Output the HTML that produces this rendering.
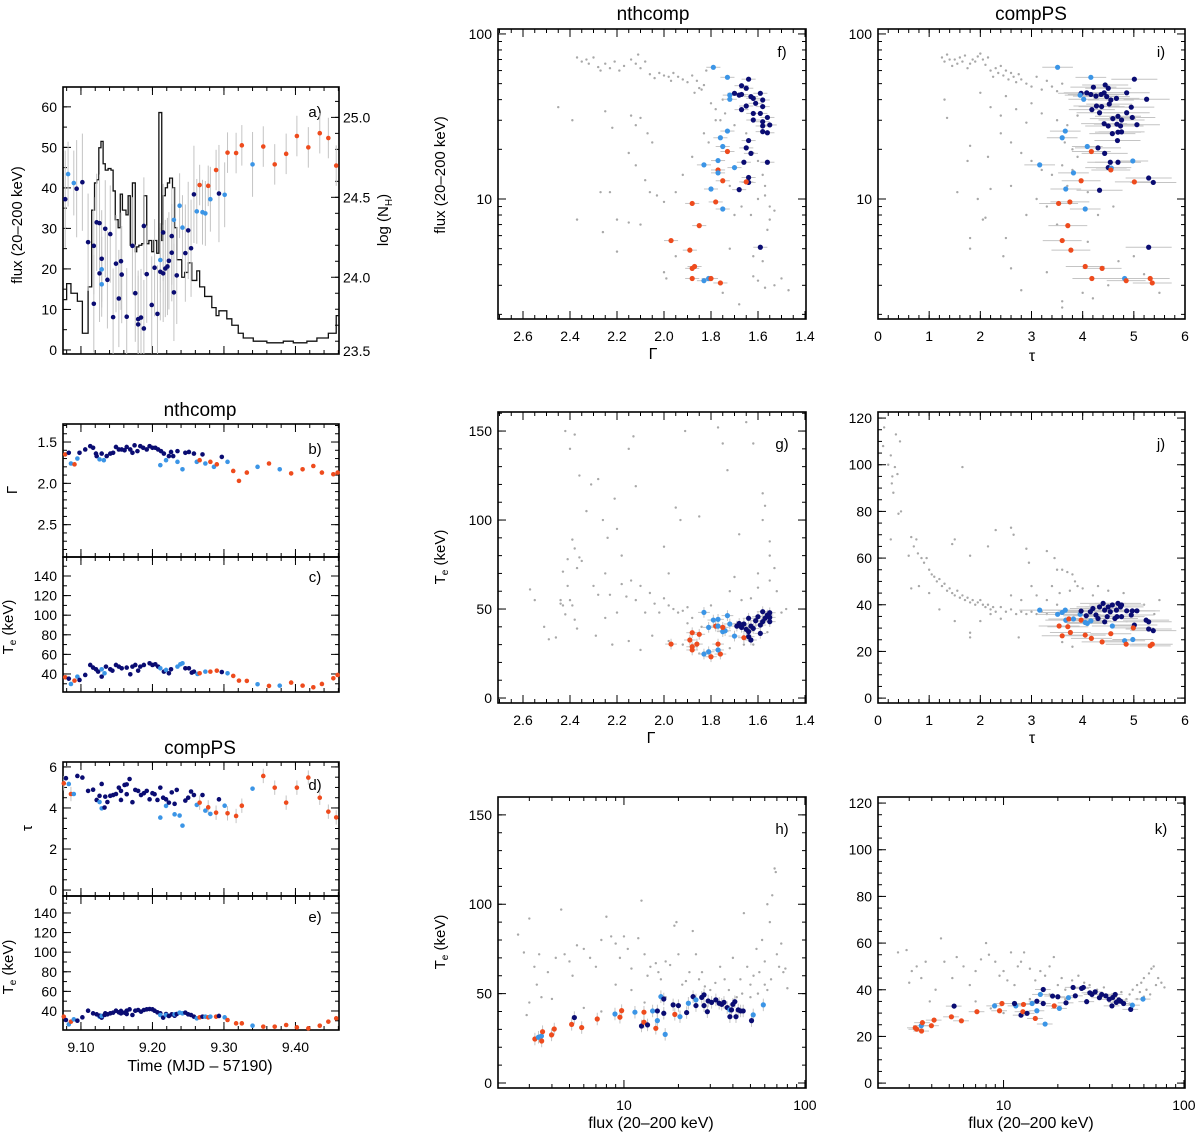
<!DOCTYPE html>
<html><head><meta charset="utf-8"><title>Compton parameter evolution</title>
<style>
html,body{margin:0;padding:0;background:#fff;}
svg{display:block;font-family:"Liberation Sans",Arial,sans-serif;}
</style></head>
<body>
<svg id="fig" width="1200" height="1135" viewBox="0 0 1200 1135" xmlns="http://www.w3.org/2000/svg"></svg>
<script>
// ---------- DATA ----------
// panel a: flux vs time
const aT=[9.078,9.082,9.090,9.094,9.102,9.110,9.118,9.118,9.122,9.126,9.126,9.129,9.129,9.129,9.134,9.137,9.141,9.145,9.149,9.153,9.156,9.157,9.164,9.172,9.176,9.180,9.180,9.184,9.188,9.188,9.192,9.199,9.203,9.207,9.211,9.211,9.215,9.215,9.218,9.221,9.223,9.227,9.227,9.230,9.230,9.234,9.238,9.242,9.246,9.250,9.254,9.258,9.262,9.266,9.270,9.274,9.278,9.281,9.289,9.293,9.301,9.305,9.317,9.325,9.340,9.355,9.371,9.387,9.402,9.418,9.434,9.446,9.457];
const aF=[37.2,43.4,41.2,39.8,41.4,26.6,25.7,11.4,31.5,31.3,18.9,19.9,22.5,16.2,29.9,17.3,28.6,8.1,21.3,12.7,21.9,18.6,8.2,25.7,14.0,7.6,6.3,8.0,5.3,30.6,18.7,11.1,20.3,8.9,22.2,19.3,18.9,29.0,20.1,20.6,22.0,24.0,28.1,32.1,14.2,18.4,35.6,30.2,23.9,29.5,25.1,38.4,34.2,40.7,34.0,33.7,40.5,37.2,44.4,38.6,38.3,48.7,48.6,50.5,45.8,50.2,45.8,48.4,52.8,50.0,53.5,52.3,45.5];
const aC="dllddddddd"+"dldldddddd"+"dddddddddd"+"ddddlddddd"+"dddlddlldd"+"ddlollolod"+"looolooooo"+"ooo";
// NH histogram (log N_H)
const nhEdges=[9.075,9.080,9.086,9.095,9.102,9.110,9.115,9.119,9.122,9.125,9.128,9.131,9.134,9.138,9.142,9.145,9.148,9.152,9.155,9.158,9.163,9.166,9.169,9.172,9.176,9.178,9.181,9.185,9.188,9.192,9.195,9.199,9.202,9.206,9.209,9.213,9.215,9.218,9.221,9.224,9.228,9.231,9.234,9.241,9.245,9.250,9.255,9.262,9.266,9.273,9.283,9.289,9.293,9.304,9.311,9.320,9.327,9.341,9.360,9.383,9.397,9.416,9.430,9.446,9.457,9.460];
const nhVals=[23.86,23.96,23.90,23.85,23.65,23.94,24.42,24.59,24.61,24.81,24.85,24.71,24.67,24.68,24.67,24.54,24.36,24.31,24.52,24.42,24.39,24.51,24.20,24.59,24.16,24.19,24.20,24.21,24.51,24.21,24.23,24.16,24.23,24.15,25.03,24.23,24.51,24.56,24.59,24.62,24.56,24.31,24.11,24.00,24.03,24.09,23.98,24.04,23.94,23.88,23.81,23.76,23.79,23.74,23.70,23.65,23.62,23.60,23.59,23.60,23.59,23.60,23.62,23.65,23.76];
// panel b: Gamma vs time
const bT=[9.078,9.083,9.086,9.091,9.095,9.098,9.106,9.113,9.117,9.121,9.122,9.126,9.129,9.132,9.136,9.141,9.145,9.149,9.153,9.157,9.161,9.164,9.169,9.172,9.175,9.179,9.183,9.187,9.192,9.196,9.200,9.204,9.208,9.211,9.212,9.216,9.219,9.223,9.226,9.229,9.235,9.235,9.242,9.246,9.251,9.258,9.262,9.266,9.270,9.274,9.281,9.286,9.290,9.297,9.305,9.313,9.321,9.332,9.347,9.363,9.378,9.394,9.410,9.425,9.437,9.453,9.459];
const bG=[1.65,1.63,1.76,1.77,1.70,1.63,1.59,1.55,1.57,1.64,1.67,1.71,1.64,1.72,1.67,1.64,1.63,1.56,1.59,1.59,1.60,1.56,1.59,1.63,1.54,1.61,1.55,1.57,1.59,1.55,1.57,1.57,1.59,1.78,1.61,1.64,1.72,1.67,1.62,1.67,1.74,1.61,1.83,1.63,1.62,1.64,1.74,1.72,1.65,1.76,1.74,1.80,1.77,1.68,1.74,1.85,1.97,1.87,1.80,1.76,1.83,1.88,1.83,1.79,1.87,1.89,1.87];
const bC="odlolddddd"+"dldldddddd"+"dddddddddd"+"dddlddlddd"+"ldldddlodl"+"olodlooolo"+"loooooo";
// panel c: Te (nthcomp) vs time
const cT=[9.078,9.083,9.086,9.091,9.095,9.098,9.106,9.113,9.117,9.121,9.124,9.129,9.129,9.133,9.135,9.141,9.144,9.149,9.153,9.157,9.164,9.169,9.172,9.176,9.180,9.183,9.188,9.196,9.200,9.204,9.208,9.211,9.216,9.219,9.223,9.226,9.235,9.239,9.242,9.246,9.251,9.255,9.258,9.263,9.266,9.274,9.281,9.290,9.297,9.305,9.313,9.321,9.332,9.347,9.363,9.378,9.394,9.410,9.425,9.437,9.453,9.459];
const cTe=[36.6,35.2,29.8,33.2,37.3,33.9,39,49.2,46.5,44.8,42.4,44.8,37.3,40.7,47.5,44.8,43.4,49.2,47.5,45.8,46.5,39.7,47.5,49.2,43.4,47.5,49.2,50.9,49.2,49.9,47.5,45.8,42.4,44.1,40.7,44.8,47.5,49.9,50.9,45.8,45.8,41.4,42.4,40,40.7,42.4,42.4,43.4,42,40.7,38,33.2,32.9,29.5,27.8,28.1,31.2,28.1,26.4,29.8,35.6,39];
const cC="odlolddddd"+"dldldddddd"+"dddddddddd"+"dldlddllld"+"dddloloodl"+"ooololoooooo";
// panels d,e: tau and Te (compPS) vs time
const dT=[9.076,9.079,9.083,9.086,9.090,9.095,9.102,9.110,9.117,9.122,9.126,9.126,9.129,9.129,9.133,9.134,9.137,9.141,9.145,9.149,9.153,9.156,9.156,9.161,9.164,9.164,9.168,9.172,9.176,9.180,9.184,9.188,9.192,9.196,9.200,9.203,9.207,9.211,9.211,9.215,9.219,9.219,9.223,9.227,9.231,9.231,9.234,9.238,9.242,9.246,9.250,9.254,9.258,9.262,9.266,9.270,9.274,9.278,9.281,9.289,9.293,9.301,9.305,9.317,9.325,9.340,9.355,9.371,9.387,9.402,9.418,9.434,9.446,9.457];
const dTau=[5.2,5.45,5.17,4.68,4.68,5.56,5.48,4.83,4.89,4.39,4.29,4.59,5.17,3.98,4.02,4.55,4.29,4.59,4.63,4.68,4.99,4.39,4.83,5.12,4.67,5.15,5.41,4.28,4.88,4.83,4.63,4.72,4.83,4.42,4.72,4.67,4.39,4.99,3.53,4.50,4.42,4.10,4.26,4.76,4.20,3.69,4.88,3.63,3.14,4.36,4.50,4.80,4.63,4.15,4.26,4.63,3.87,4.03,3.71,3.77,4.42,4.11,3.74,3.61,4.11,4.94,5.56,4.99,4.26,4.99,5.48,4.50,3.82,3.54];
const eTe=[34.2,30.8,26.4,29.1,31.5,30.1,33.5,40.3,37.6,36.6,34.2,35.2,33.2,34.9,35.9,37.6,36.6,37.6,38.3,40.3,38.6,37.6,40,38.3,40.3,36.9,41.7,35.9,40.3,41,39.3,41,41.7,42,41.7,40.3,38.6,37.6,35.9,33.2,36.9,35.9,34.9,36.6,35.2,36.6,36.9,38.3,37.6,38.3,36.6,35.9,34.2,32.5,33.5,34.2,34.2,33.5,34.2,34.2,34.9,33.5,30.8,27.4,27.4,25,24,24,25.7,23.3,22.3,25,29.1,32.5];
const dC="odlolddddd"+"lddldddddd"+"dddddddddd"+"ddddddddld"+"dldddldlld"+"dddlodlolo"+"dloooloooo"+"oooo";
// panel f: flux vs Gamma
const fG=[1.79,1.73,1.64,1.67,1.65,1.72,1.72,1.70,1.68,1.67,1.63,1.62,1.59,1.61,1.67,1.65,1.62,1.58,1.58,1.59,1.56,1.62,1.58,1.58,1.55,1.58,1.56,1.73,1.76,1.64,1.75,1.65,1.63,1.77,1.66,1.56,1.83,1.70,1.73,1.77,1.77,1.64,1.64,1.75,1.65,1.68,1.80,1.88,1.78,1.75,1.85,1.97,1.59,1.89,1.87,1.88,1.88,1.83,1.81,1.80,1.76];
const fF=[62.8,54.6,53.2,48.6,46.9,42.6,40.2,43.7,42.6,43.0,41.7,40.7,43.7,38.0,34.8,36.6,33.0,39.8,36.3,33.0,31.2,30.1,29.4,27.7,28.1,25.6,25.2,25.8,23.5,22.6,20.8,20.4,18.9,17.1,16.7,16.7,16.1,15.5,19.4,15.0,14.4,13.5,12.6,12.9,12.7,11.4,11.5,9.4,9.6,8.7,6.9,5.6,5.1,4.9,3.9,3.8,3.3,3.2,3.3,3.3,3.1];
const fC="lldddllddd"+"dddddddddd"+"dddddddlld"+"lddlddlloo"+"lddoodlool"+"oodoooolloo";
const fGray=[[2.37,72],[2.35,68],[2.33,70],[2.32,66],[2.30,72],[2.28,63],[2.27,60],[2.25,66],[2.23,62],[2.21,68],[2.19,60],[2.17,64],[2.14,70],[2.12,66],[2.11,75],[2.10,62],[2.08,68],[2.06,57],[2.04,54],[2.02,58],[2.00,56],[1.98,55],[1.97,52],[1.96,58],[1.94,55],[1.92,53],[1.90,51],[1.88,56],[1.86,52],[1.85,47],[1.83,49],[1.82,60],[1.87,44],[1.84,46],[1.80,38],[1.78,35],[1.76,30],[1.75,40],[2.45,36],[2.39,30],[2.25,34],[2.22,27],[2.14,32],[2.12,28],[2.10,31],[2.07,25],[2.05,22],[2.15,19],[2.12,16],[2.08,13],[2.06,11],[2.03,10.5],[2.27,11],[2.23,11],[2.37,7.5],[2.26,6.3],[2.2,7.5],[2.15,7.2],[2.1,7],[2.0,9.6],[1.95,11],[1.92,14],[1.88,18],[1.83,25],[1.81,22],[1.78,30],[1.72,12],[1.70,8],[1.67,9],[1.63,8],[1.6,10],[1.57,10.5],[1.55,9],[1.55,7.5],[1.53,8.5],[1.56,6.5],[1.62,3.4],[1.60,3.2],[1.57,2.9],[1.53,3.0],[1.50,3.3],[1.47,2.8],[1.75,2.7],[1.68,2.3],[1.95,4.5],[2.0,3.6],[1.99,3.3],[1.72,5],[1.62,19],[1.60,17],[1.58,14],[1.57,12],[1.65,25],[1.70,28],[1.74,33],[1.62,4.5],[1.58,4.2],[2.20,4.8]];
// panel i: flux vs tau
const iTau=[3.51,4.16,5.01,4.21,4.44,4.50,3.97,3.95,4.08,4.16,4.26,4.36,4.42,4.47,4.55,4.66,4.86,4.02,5.25,4.52,4.27,4.18,4.37,4.33,4.86,4.95,4.69,4.59,4.97,4.76,4.42,4.50,4.67,4.74,5.06,4.69,4.58,4.76,4.68,3.66,3.60,4.09,4.30,4.17,4.43,3.16,4.54,4.69,4.98,4.50,4.56,4.55,3.82,5.29,5.38,5.01,3.97,3.67,4.33,3.53,3.75,4.05,3.71,3.60,5.29,3.77,4.05,4.38,4.18,4.82,5.32,4.85,5.36];
const iF=[62.8,54.6,53.2,47.6,49.1,46.9,43.7,42.6,44.0,43.0,42.0,43.0,44.0,41.7,39.8,40.7,44.0,40.2,40.2,37.6,36.6,34.8,36.3,33.3,33.3,36.0,31.7,30.7,31.2,30.1,28.6,27.7,28.4,27.7,28.2,25.4,24.9,25.5,22.6,25.8,23.5,20.8,20.4,19.4,18.9,16.1,16.7,16.7,17.0,15.5,15.4,15.0,14.4,13.4,12.6,12.7,12.9,11.5,11.3,9.4,9.6,8.7,6.9,5.6,5.1,4.9,3.9,3.8,3.3,3.3,3.3,3.2,3.1];
const iC="lldddddldd"+"dddddddldd"+"dddddddddd"+"dddddddddl"+"lldodlddld"+"lolddooldo"+"oloodooool"+"ooo";
const iGray=[[1.25,72],[1.3,68],[1.35,75],[1.4,70],[1.45,64],[1.5,70],[1.55,66],[1.6,72],[1.65,68],[1.7,74],[1.75,62],[1.8,66],[1.85,70],[1.9,68],[1.95,73],[2.0,76],[2.05,70],[2.1,65],[2.15,72],[2.2,60],[2.25,55],[2.3,62],[2.35,58],[2.4,64],[2.45,56],[2.5,60],[2.55,53],[2.6,58],[2.65,55],[2.7,51],[2.75,57],[2.8,53],[2.9,50],[3.0,48],[3.1,55],[3.2,46],[3.3,52],[3.4,48],[3.5,45],[3.6,50],[1.3,40],[1.35,31],[2.0,44],[2.2,36],[2.4,32],[2.5,42],[2.7,35],[2.9,29],[3.0,38],[3.2,33],[3.5,30],[3.7,28],[3.9,32],[1.8,21],[1.75,17],[2.15,18],[2.4,25],[2.6,22],[2.8,19],[3.0,17],[3.2,15],[3.4,14],[3.6,16],[1.55,11],[1.95,10],[2.05,7.5],[2.1,7.7],[2.2,11.5],[2.6,12],[2.9,8],[3.1,10],[3.3,9],[3.5,7],[1.8,5.8],[1.8,5],[2.45,4.5],[2.5,5.8],[2.6,3.8],[2.8,2.8],[3.3,3.6],[3.6,2.4],[3.6,2.2],[4.0,2.7],[4.2,2.5],[4.5,3],[4.7,4.2],[5.0,4.5],[5.2,3.5],[5.5,2.7],[4.1,5.5],[4.3,8],[4.6,9],[3.8,20],[3.9,18],[3.65,22],[3.7,12],[3.8,15],[4.1,11]];
// panel g: Te vs Gamma
const gG=[1.83,1.79,1.77,1.73,1.81,1.78,1.77,1.75,1.74,1.72,1.70,1.75,1.69,1.67,1.66,1.64,1.63,1.61,1.60,1.58,1.57,1.55,1.56,1.58,1.59,1.62,1.64,1.65,1.68,1.63,1.64,1.59,1.66,1.55,1.55,1.88,1.85,1.89,1.88,1.86,1.97,1.88,1.83,1.81,1.80,1.76,1.77,1.77];
const gTe=[48.1,43.8,44.2,46.3,39.7,40.4,40.4,37.3,37.8,41.6,34.8,39.7,40.4,39.7,41.6,44.8,40.4,43.4,45.7,48.5,44.8,47.9,46.6,42.9,41.0,39.1,37.3,38.6,41.9,32.6,34.5,36.3,33.9,42.9,45.3,36.7,35.8,32.6,28.8,30.3,30.3,27.0,24.7,26.0,23.2,24.7,27.0,30.3];
const gC="lllllollll"+"lodddddddd"+"dddddddddd"+"ddoddooooo"+"oolloolo";
const gGray=[[2.57,61],[2.55,55],[2.51,40],[2.49,33],[2.46,34],[2.44,53],[2.43,52],[2.42,47],[2.41,63],[2.40,55],[2.39,52],[2.38,44],[2.37,39],[2.37,73],[2.36,79],[2.35,77],[2.38,84],[2.39,89],[2.41,78],[2.43,71],[2.44,55],[2.42,150],[2.38,148],[2.4,140],[2.36,125],[2.33,105],[2.31,120],[2.28,123],[2.26,100],[2.24,90],[2.21,112],[2.20,95],[2.18,80],[2.15,140],[2.13,147],[2.12,119],[2.30,63],[2.28,58],[2.25,70],[2.23,58],[2.2,48],[2.18,64],[2.16,57],[2.14,66],[2.12,55],[2.10,63],[2.08,48],[2.06,59],[2.04,53],[2.02,48],[2.0,56],[1.98,52],[1.96,50],[1.94,48],[1.92,49],[1.90,51],[1.88,45],[2.05,35],[2.1,27],[2.15,32],[2.0,85],[1.98,70],[1.95,107],[1.93,100],[1.91,150],[1.85,102],[1.77,152],[1.75,143],[1.73,128],[1.70,68],[1.68,92],[1.65,155],[1.62,143],[1.60,70],[1.58,115],[1.57,108],[1.55,80],[1.53,73],[1.52,60],[1.55,66],[1.60,62],[1.63,56],[1.67,55],[1.72,60],[1.5,48],[1.48,50],[1.56,37],[1.62,30],[1.66,30],[1.72,28],[1.85,25],[1.92,30],[1.98,32],[2.22,30],[2.25,45],[2.29,35],[1.80,52],[1.84,40],[1.9,42],[1.58,100],[1.55,88]];
// panel j: Te vs tau
const jTau=[3.16,3.51,3.60,3.66,3.67,3.73,3.82,3.95,3.97,3.97,4.05,4.09,4.16,4.07,4.15,4.20,4.26,4.30,4.33,4.40,4.43,4.43,4.48,4.50,4.54,4.58,4.63,4.66,4.69,4.74,4.76,4.67,4.76,4.86,4.95,4.97,5.06,5.01,5.24,5.29,5.29,5.38,4.58,3.54,3.71,3.76,3.60,4.05,4.17,4.55,4.38,4.82,4.85,4.98,4.99,5.32,5.36];
const jTe=[37.7,35.9,36.7,37.7,33.4,33.9,33.9,35.9,37.3,33.4,32.4,32.0,33.1,35.3,37.0,38.4,35.6,34.1,39.1,40.6,37.7,32.7,34.9,39.1,37.0,39.9,34.1,37.7,40.6,39.1,39.9,34.9,34.9,37.4,35.6,37.4,37.4,31.3,33.4,32.7,29.6,28.9,30.9,30.9,30.6,28.1,26.7,27.0,25.6,27.6,24.1,24.6,23.1,25.1,30.1,22.4,23.1];
const jC="lllllolldo"+"lllddddddd"+"dddddddddd"+"dddddddddd"+"ddlooooooo"+"ololooo";
const jGray=[[0.1,108],[0.12,116],[0.2,100],[0.25,104],[0.28,95],[0.33,99],[0.35,113],[0.38,96],[0.43,110],[0.4,79],[0.45,80],[0.3,88],[0.27,92],[0.25,68],[0.6,61],[0.65,69],[0.7,65],[0.75,68],[0.78,62],[0.85,60],[0.9,58],[0.95,60],[1.0,55],[1.05,53],[1.1,52],[1.15,50],[1.2,51],[1.25,48],[1.3,49],[1.35,46],[1.4,47],[1.45,45],[1.5,44],[1.55,46],[1.6,43],[1.65,44],[1.7,42],[1.75,43],[1.8,41],[1.85,42],[1.9,40],[1.95,41],[2.0,42],[2.05,40],[2.1,39],[2.15,40],[2.2,38],[2.25,39],[2.3,37],[2.4,39],[2.5,37],[2.6,38],[2.7,36],[2.8,37],[2.9,36],[3.0,37],[3.1,36],[3.2,37],[3.3,36],[1.0,45],[1.2,38],[1.5,33],[1.8,28],[2.0,33],[2.2,36],[2.4,34],[2.6,44],[2.8,42],[0.8,48],[0.65,47],[1.5,68],[1.45,66],[1.65,99],[1.8,61],[2.15,65],[2.3,72],[2.6,73],[2.65,70],[2.9,64],[2.95,58],[3.3,63],[3.45,60],[3.5,55],[3.6,55],[3.7,54],[3.8,53],[3.85,50],[3.9,48],[3.75,46],[3.55,45],[3.4,48],[3.0,48],[3.1,44],[4.0,47],[4.3,48],[4.5,46],[4.8,45],[5.2,40],[5.5,42],[5.4,36],[3.6,24],[3.8,22],[2.75,26],[1.8,26],[3.3,42],[3.5,40],[4.2,44]];
// panel h: Te (nthcomp) vs flux
const hF=[3.22,3.37,3.5,3.51,3.55,3.98,4.12,5.14,5.32,5.84,7.12,8.92,9.50,9.71,11.5,12.5,12.9,12.9,13.5,14.4,15.3,15.0,15.3,16.0,16.6,16.6,16.9,18.7,19.1,20.0,20.4,22.2,22.7,24.1,25.0,25.0,26.9,27.7,27.7,28.9,29.2,30.5,32.2,33.6,34.7,35.7,37.2,38.5,38.5,39.3,41.0,41.6,42.8,44.1,45.6,50.7,51.8,58.9,40.0];
const hTe=[24.6,25.6,26.3,23.5,28.7,26.9,30.2,32.8,36.6,31.0,35.8,38.6,36.8,40.5,39.6,31.9,39.6,34.0,32.5,40.3,40.3,30.6,34.9,48.3,47.0,39.0,27.2,43.7,38.4,43.3,37.1,39.4,44.6,48.3,46.5,43.3,47.9,49.3,43.3,39.9,45.9,45.1,46.5,44.6,44.0,45.1,42.2,37.1,40.9,40.9,45.5,37.1,40.9,40.3,40.3,34.9,38.1,43.7,44.0];
const hC="ollooooodo"+"olooldoodl"+"dollddldod"+"ldldlddddd"+"ddddddddld"+"ddddddlld";
const hGray=[[2.6,83],[2.8,73],[3.0,92],[3.2,65],[3.4,72],[3.5,48],[3.0,45],[2.9,38],[3.3,55],[3.8,62],[4.0,47],[4.5,97],[4.7,72],[4.2,70],[5.0,68],[5.2,60],[5.5,77],[6.0,75],[6.5,70],[7.0,65],[7.5,80],[8.0,93],[8.5,82],[9.0,78],[9.5,70],[10,82],[10.5,75],[11,64],[12,81],[12.5,102],[13,72],[13.5,60],[14,65],[15,67],[15.5,62],[16,58],[17,68],[18,66],[19,88],[19.5,90],[20,72],[21,55],[22,57],[23,62],[24,85],[25,72],[26,58],[27,62],[28,54],[30,52],[32,56],[34,65],[36,58],[38,52],[40,70],[42,48],[44,58],[46,95],[48,65],[50,55],[52,60],[54,75],[56,62],[58,80],[60,68],[62,100],[64,90],[66,105],[68,120],[69,118],[70,72],[72,65],[74,78],[76,62],[78,64],[80,53],[60,55],[55,50],[50,48],[45,50],[62,52],[65,58],[7.5,40],[6,42],[9,55],[11,52],[17,48],[13,45]];
// panel k: Te (compPS) vs flux
const kF=[3.24,3.3,3.5,3.51,3.55,3.98,4.12,5.32,5.14,5.84,7.12,8.92,9.50,9.8,11.7,11.5,12.5,12.9,12.8,13.5,14.4,15.3,15.3,15.0,16.0,16.6,16.6,17.0,18.7,19.1,20.0,20.4,22.2,22.9,24.3,25.0,27.1,27.7,28.9,30.1,32.2,30.9,34.0,35.0,36.9,38.5,39.9,40.3,41.6,42.2,43.6,44.6,46.3,50.7,51.8,59.3];
const kTe=[23.7,23.1,24.6,22.3,25.9,24.6,27.0,33.0,28.4,26.7,30.6,33.1,31.0,34.1,33.1,34.1,29.1,33.7,30.6,29.9,34.1,35.1,31.0,27.7,38.0,40.1,34.1,25.3,37.3,33.1,37.0,32.0,34.4,36.6,41.0,37.4,40.6,41.0,34.9,38.7,39.1,38.0,36.6,38.0,37.4,35.9,33.1,36.7,38.0,34.6,35.6,35.1,34.1,31.6,33.4,36.0];
const kC="ooloooodoo"+"oloolddood"+"ldlolddldo"+"dldldddddd"+"dddddddddd"+"ddddll";
const kGray=[[2.6,56],[2.9,57],[3.0,43],[3.1,48],[3.3,50],[3.5,45],[3.7,52],[3.9,35],[4.2,40],[4.5,62],[4.7,52],[5.2,45],[5.5,54],[6.0,50],[6.5,42],[7.0,48],[7.5,53],[8.0,60],[8.3,55],[9.0,52],[9.5,46],[10,48],[10.5,44],[11,56],[11.5,42],[12,50],[12.5,52],[13,56],[14,49],[15,44],[16,48],[17,46],[18,50],[19,54],[20,42],[21,45],[22,40],[24,44],[26,46],[28,43],[30,42],[33,40],[36,41],[40,38],[42,37],[45,39],[48,36],[50,38],[52,40],[55,42],[58,43],[60,45],[62,40],[64,47],[66,49],[68,50],[70,42],[72,45],[75,43],[78,41],[55,36],[60,37],[65,38],[45,35],[50,34],[57,39],[7,35],[8.5,32],[10,30],[14,36],[18,38],[22,36]];
// tick labels
const timeTicks=[9.10,9.20,9.30,9.40];
const fluxTicksA=[0,10,20,30,40,50,60];
const nhTicks=[23.5,24.0,24.5,25.0];
const gammaTicksB=[1.5,2.0,2.5];
const teTicksLeft=[40,60,80,100,120,140];
const tauTicksD=[0,2,4,6];
const gammaTicks=[2.6,2.4,2.2,2.0,1.8,1.6,1.4];
const tauTicks=[0,1,2,3,4,5,6];
const logFluxTicks=[10,100];
const teTicksNth=[0,50,100,150];
const teTicksPS=[0,20,40,60,80,100,120];

// ---------- DRAWING ----------
const NS="http://www.w3.org/2000/svg";
const svg=document.getElementById('fig');
const COL={d:'#0a0c72',l:'#3b95e6',o:'#ee4b1d'};
const CATNAME={d:'dark-blue',l:'light-blue',o:'orange'};
function mk(tag,attrs,parent){const e=document.createElementNS(NS,tag);for(const k in attrs)e.setAttribute(k,attrs[k]);(parent||svg).appendChild(e);return e;}
function txt(s,x,y,size,anchor,parent,name){const t=mk('text',{x:x,y:y,'font-size':size,'text-anchor':anchor||'middle',fill:'#000'},parent);t.textContent=s;


return t;}
function scale(d0,d1,p0,p1,log){return v=>{const a=log?Math.log10(v):v;return p0+(a-d0)/(d1-d0)*(p1-p0);};}
function tickVals(min,max,log,step){const out=[];if(log){for(let e=Math.floor(min);e<=Math.ceil(max);e++){for(let m=1;m<10;m++){const v=m*Math.pow(10,e);const l=Math.log10(v);if(l>=min-1e-9&&l<=max+1e-9)out.push(v);}}}else{for(let v=Math.ceil(min/step-1e-9)*step;v<=max+1e-9;v+=step)out.push(+v.toFixed(6));}return out;}

function panel(p){
  const g=mk('g',{});
  
  
  const X=scale(p.xd[0],p.xd[1],p.x0,p.x1,p.xlog), Y=scale(p.yd[0],p.yd[1],p.y1,p.y0,p.ylog);
  p.X=X;p.Y=Y;
  const ax=mk('g',{stroke:'#000','stroke-width':1},g);
  
  
  function ticksX(vals,len){vals.forEach(v=>{const x=X(v);if(x<p.x0-0.5||x>p.x1+0.5)return;mk('line',{x1:x,x2:x,y1:p.y1,y2:p.y1-len},ax);mk('line',{x1:x,x2:x,y1:p.y0,y2:p.y0+len},ax);});}
  function ticksY(vals,len,side,Ys){Ys=Ys||Y;vals.forEach(v=>{const y=Ys(v);if(y<p.y0-0.5||y>p.y1+0.5)return;if(side!=='r')mk('line',{x1:p.x0,x2:p.x0+len,y1:y,y2:y},ax);if(side!=='l')mk('line',{x1:p.x1,x2:p.x1-len,y1:y,y2:y},ax);});}
  const xmin=Math.min(...p.xd),xmax=Math.max(...p.xd),ymin=Math.min(...p.yd),ymax=Math.max(...p.yd);
  if(p.xlog){const all=tickVals(xmin,xmax,true);ticksX(all.filter(v=>Math.abs(Math.log10(v)%1)>1e-6),4);ticksX(all.filter(v=>Math.abs(Math.log10(v)%1)<1e-6),8);}
  else{ticksX(tickVals(xmin,xmax,false,p.xminor),4);ticksX(tickVals(xmin,xmax,false,p.xmajor),8);}
  const side=p.right?'l':'b';
  if(p.ylog){const all=tickVals(ymin,ymax,true);ticksY(all.filter(v=>Math.abs(Math.log10(v)%1)>1e-6),4,side);ticksY(all.filter(v=>Math.abs(Math.log10(v)%1)<1e-6),8,side);}
  else{ticksY(tickVals(ymin,ymax,false,p.yminor),4,side);ticksY(tickVals(ymin,ymax,false,p.ymajor),8,side);}
  if(p.right){const R=scale(p.right.d[0],p.right.d[1],p.y1,p.y0,false);p.R=R;ticksY(tickVals(p.right.d[0],p.right.d[1],false,0.1),4,'r',R);ticksY(tickVals(p.right.d[0],p.right.d[1],false,0.5),8,'r',R);
    p.right.labels.forEach(v=>{txt(v.toFixed(1),p.x1+4,Math.min(R(v),p.y1-3)+5,14,'start',g,'right-tick-label');});}
  const fr=mk('rect',{x:p.x0,y:p.y0,width:p.x1-p.x0,height:p.y1-p.y0,fill:'none',stroke:'#000','stroke-width':1.6},g);
  
  
  if(p.xlabels)p.xlabels.forEach(v=>txt(p.xfmt?p.xfmt(v):String(v),X(v),p.y1+22,14,'middle',g,'x-tick-label'));
  if(p.ylabels)p.ylabels.forEach(v=>txt(p.yfmt?p.yfmt(v):String(v),p.x0-6,Y(v)+5,14,'end',g,'y-tick-label'));
  if(p.letter)txt(p.letter,p.x1-24,p.letterY,15,'middle',g,'panel-letter');
  p.g=g;return p;
}
function ylab(s,x,y,name,parent){const t=txt(s,x,y,15,'middle',parent,name);t.setAttribute('transform','rotate(-90 '+x+' '+y+')');return t;}
function dot(p,x,y,cat,r){const c=mk('circle',{cx:x,cy:y,r:r||2.4,fill:COL[cat]},p.g);


return c;}
function err(p,x1,y1,x2,y2){const l=mk('line',{x1:x1,y1:y1,x2:x2,y2:y2,stroke:'#c4c4c4','stroke-width':1},p.g);

}
function gray(p,arr){arr.forEach(d=>{const x=p.X(d[0]),y=p.Y(d[1]);if(x<p.x0||x>p.x1||y<p.y0||y>p.y1)return;const c=mk('circle',{cx:x,cy:y,r:1.2,fill:'#a8a8a8'},p.g);

});}

const tf=v=>v.toFixed(2), f1=v=>v.toFixed(1);
const TX=[9.0749,9.4609];
// ---- panel a
const pa=panel({name:'panel-a',x0:63,x1:339,y0:87,y1:354,xd:TX,yd:[-1,64.9],xmajor:0.1,xminor:0.02,ymajor:10,yminor:5,ylabels:fluxTicksA,letter:'a)',letterY:117,right:{d:[23.52,25.19],labels:nhTicks}});
{let d='';nhVals.forEach((v,i)=>{const x0=pa.X(nhEdges[i]),x1=pa.X(nhEdges[i+1]),y=pa.R(v);d+=(i?'L':'M')+x0+' '+y+'L'+x1+' '+y;});
const s=mk('path',{d:d,fill:'none',stroke:'#111','stroke-width':1.3},pa.g);

}
aT.forEach((t,i)=>{const c=aC[i];const e=c==='d'?12:c==='l'?8:5;const x=pa.X(t);err(pa,x,pa.Y(Math.min(aF[i]+e,64)),x,pa.Y(Math.max(aF[i]-e,-1)));});
aT.forEach((t,i)=>dot(pa,pa.X(t),pa.Y(aF[i]),aC[i],2.3));
ylab('flux (20–200 keV)',22,225,'flux-axis-title');
{const t=ylab('',388,220,'nh-axis-title');t.textContent='log (N';const s=mk('tspan',{'font-size':10,dy:4},t);s.textContent='H';const s2=mk('tspan',{dy:-4},t);s2.textContent=')';}
// ---- panel b
txt('nthcomp',200,416,19,'middle',null,'nthcomp-title-left');
const pb=panel({name:'panel-b',x0:63,x1:339,y0:424,y1:557,xd:TX,yd:[2.891,1.282],xmajor:0.1,xminor:0.02,ymajor:0.5,yminor:0.1,ylabels:gammaTicksB,yfmt:f1,letter:'b)',letterY:454});
bT.forEach((t,i)=>dot(pb,pb.X(t),pb.Y(bG[i]),bC[i],2.3));
ylab('Γ',17,490,'gamma-axis-title');
// ---- panel c
const pc=panel({name:'panel-c',x0:63,x1:339,y0:557,y1:692,xd:TX,yd:[21.6,159.4],xmajor:0.1,xminor:0.02,ymajor:20,yminor:10,ylabels:teTicksLeft,letter:'c)',letterY:582});
cT.forEach((t,i)=>dot(pc,pc.X(t),pc.Y(cTe[i]),cC[i],2.3));
{const t=ylab('T',13,627,'te-axis-title');const s=mk('tspan',{'font-size':10,dy:3},t);s.textContent='e';const s2=mk('tspan',{dy:-3},t);s2.textContent=' (keV)';}
// ---- panel d
txt('compPS',200,754,19,'middle',null,'compps-title-left');
const pd=panel({name:'panel-d',x0:63,x1:339,y0:762,y1:896,xd:TX,yd:[-0.29,6.24],xmajor:0.1,xminor:0.02,ymajor:2,yminor:0.5,ylabels:tauTicksD,letter:'d)',letterY:790});
dT.forEach((t,i)=>{if(dC[i]==='o'){const x=pd.X(t);err(pd,x,pd.Y(dTau[i]+0.35),x,pd.Y(dTau[i]-0.35));}});
dT.forEach((t,i)=>dot(pd,pd.X(t),pd.Y(dTau[i]),dC[i],2.3));
ylab('τ',32,828,'tau-axis-title');
// ---- panel e
const pe=panel({name:'panel-e',x0:63,x1:339,y0:896,y1:1030,xd:TX,yd:[20.6,157.3],xmajor:0.1,xminor:0.02,ymajor:20,yminor:10,ylabels:teTicksLeft,xlabels:timeTicks,xfmt:tf,letter:'e)',letterY:922});
dT.forEach((t,i)=>dot(pe,pe.X(t),pe.Y(eTe[i]),dC[i],2.3));
{const t=ylab('T',13,967,'te-axis-title-ps');const s=mk('tspan',{'font-size':10,dy:3},t);s.textContent='e';const s2=mk('tspan',{dy:-3},t);s2.textContent=' (keV)';}
txt('Time (MJD – 57190)',200,1071,16,'middle',null,'time-axis-title');

// ---- panel f
txt('nthcomp',653,20,19,'middle',null,'nthcomp-title');
txt('compPS',1031,20,19,'middle',null,'compps-title');
const GX=[2.7064,1.3957];
const pf=panel({name:'panel-f',x0:498,x1:806,y0:29,y1:319,xd:GX,xlog:false,yd:[0.273,2.03],ylog:true,xmajor:0.2,xminor:0.05,xlabels:gammaTicks,xfmt:f1,ylabels:logFluxTicks,letter:'f)',letterY:57});
gray(pf,fGray);
fG.forEach((v,i)=>{const y=pf.Y(fF[i]);err(pf,pf.X(v+0.03),y,pf.X(v-0.03),y);});
fG.forEach((v,i)=>dot(pf,pf.X(v),pf.Y(fF[i]),fC[i],2.6));
ylab('flux (20–200 keV)',445,175,'flux-axis-title-f');
txt('Γ',653,359,16,'middle',null,'gamma-axis-title-f');
// ---- panel i
const pi=panel({name:'panel-i',x0:878,x1:1185,y0:29,y1:319,xd:[0,6],yd:[0.273,2.03],ylog:true,xmajor:1,xminor:0.2,xlabels:tauTicks,ylabels:logFluxTicks,letter:'i)',letterY:57});
gray(pi,iGray);
iTau.forEach((v,i)=>{const e=iC[i]==='d'?0.45:iC[i]==='l'?0.3:0.38;const y=pi.Y(iF[i]);err(pi,pi.X(v-e),y,pi.X(v+e),y);});
iTau.forEach((v,i)=>dot(pi,pi.X(v),pi.Y(iF[i]),iC[i],2.6));
txt('τ',1032,361,16,'middle',null,'tau-axis-title-i');
// ---- panel g
const pg=panel({name:'panel-g',x0:498,x1:806,y0:412,y1:703,xd:GX,yd:[-2.8,160.7],xmajor:0.2,xminor:0.05,ymajor:50,yminor:10,xlabels:gammaTicks,xfmt:f1,ylabels:teTicksNth,letter:'g)',letterY:449});
gray(pg,gGray);
gG.forEach((v,i)=>{const x=pg.X(v),y=pg.Y(gTe[i]);err(pg,pg.X(v+0.025),y,pg.X(v-0.025),y);err(pg,x,pg.Y(gTe[i]+3),x,pg.Y(gTe[i]-3));});
gG.forEach((v,i)=>dot(pg,pg.X(v),pg.Y(gTe[i]),gC[i],2.6));
{const t=ylab('T',445,557,'te-axis-title-g');const s=mk('tspan',{'font-size':10,dy:3},t);s.textContent='e';const s2=mk('tspan',{dy:-3},t);s2.textContent=' (keV)';}
txt('Γ',651,743,16,'middle',null,'gamma-axis-title-g');
// ---- panel j
const pj=panel({name:'panel-j',x0:878,x1:1185,y0:412,y1:703,xd:[0,6],yd:[-2.1,122.6],xmajor:1,xminor:0.2,ymajor:20,yminor:5,xlabels:tauTicks,ylabels:teTicksPS,letter:'j)',letterY:449});
gray(pj,jGray);
jTau.forEach((v,i)=>{const e=jC[i]==='d'?0.45:0.4;const y=pj.Y(jTe[i]);err(pj,pj.X(v-e),y,pj.X(v+e),y);});
jTau.forEach((v,i)=>dot(pj,pj.X(v),pj.Y(jTe[i]),jC[i],2.6));
txt('τ',1032,743,16,'middle',null,'tau-axis-title-j');
// ---- panel h
const pH=panel({name:'panel-h',x0:498,x1:806,y0:797,y1:1088,xd:[0.304,2.006],xlog:true,yd:[-2.8,160],ymajor:50,yminor:10,xlabels:logFluxTicks,ylabels:teTicksNth,letter:'h)',letterY:834});
gray(pH,hGray);
hF.forEach((v,i)=>{const x=pH.X(v);err(pH,x,pH.Y(hTe[i]+3.5),x,pH.Y(hTe[i]-3.5));});
hF.forEach((v,i)=>dot(pH,pH.X(v),pH.Y(hTe[i]),hC[i],2.6));
{const t=ylab('T',445,942,'te-axis-title-h');const s=mk('tspan',{'font-size':10,dy:3},t);s.textContent='e';const s2=mk('tspan',{dy:-3},t);s2.textContent=' (keV)';}
txt('flux (20–200 keV)',651,1128,16,'middle',null,'flux-axis-title-h');
// ---- panel k
const pk=panel({name:'panel-k',x0:878,x1:1185,y0:797,y1:1088,xd:[0.304,2.006],xlog:true,yd:[-2.1,122.6],ymajor:20,yminor:5,xlabels:logFluxTicks,ylabels:teTicksPS,letter:'k)',letterY:834});
gray(pk,kGray);
kF.forEach((v,i)=>{const y=pk.Y(kTe[i]);err(pk,pk.X(v*0.9),y,pk.X(v*1.1),y);});
kF.forEach((v,i)=>dot(pk,pk.X(v),pk.Y(kTe[i]),kC[i],2.6));
txt('flux (20–200 keV)',1031,1128,16,'middle',null,'flux-axis-title-k');
</script>
</body></html>
